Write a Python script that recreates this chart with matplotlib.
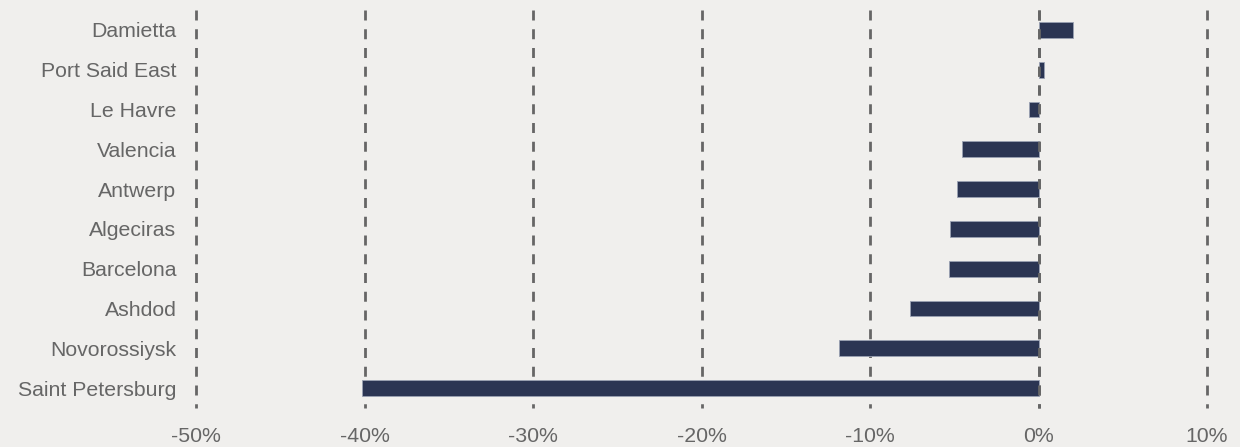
import matplotlib
matplotlib.use("Agg")
import matplotlib.pyplot as plt

ports = ["Damietta", "Port Said East", "Le Havre", "Valencia", "Antwerp",
         "Algeciras", "Barcelona", "Ashdod", "Novorossiysk", "Saint Petersburg"]
changes = [2.05, 0.32, -0.57, -4.55, -4.82, -5.23, -5.33, -7.6, -11.85, -40.15]
xticks = [-50, -40, -30, -20, -10, 0, 10]
xticklabels = ["-50%", "-40%", "-30%", "-20%", "-10%", "0%", "10%"]

bg = "#f0efed"
plt.rcParams['font.family'] = ['Liberation Sans', 'DejaVu Sans']
plt.rcParams['lines.scale_dashes'] = False

fig = plt.figure(figsize=(12.4, 4.47), dpi=100, facecolor=bg)
ax = fig.add_axes([196/1240, 1-408/447, (1207-196)/1240, (408-10)/447])
ax.set_facecolor(bg)

ypos = list(range(len(ports)))
ax.barh(ypos, changes, height=0.4, color="#2b3553", edgecolor="#9aa1b3",
        linewidth=0.6, zorder=3)

ax.set_xlim(-50, 10)
ax.set_ylim(len(ports) - 0.5, -0.5)
ax.set_xticks(xticks)
ax.set_xticklabels(xticklabels)
ax.set_yticks(ypos)
ax.set_yticklabels(ports)

y0, y1 = -0.5, len(ports) - 0.5
for x in xticks:
    ax.plot([x, x], [y0, y1], color="#666666", linewidth=2.0,
            linestyle=(0, (7.2, 6.3)), zorder=1, clip_on=False,
            solid_capstyle='butt', dash_capstyle='butt')
ax.plot([0, 0], [y0, y1], color="#666666", linewidth=2.0,
        linestyle=(0, (7.2, 6.3)), zorder=4, clip_on=False,
        dash_capstyle='butt')

for s in ax.spines.values():
    s.set_visible(False)
ax.tick_params(axis='both', length=0, labelsize=15.3, labelcolor="#666666")
ax.tick_params(axis='x', pad=14)
ax.tick_params(axis='y', pad=14)

fig.savefig("out.png", dpi=100, facecolor=bg)
